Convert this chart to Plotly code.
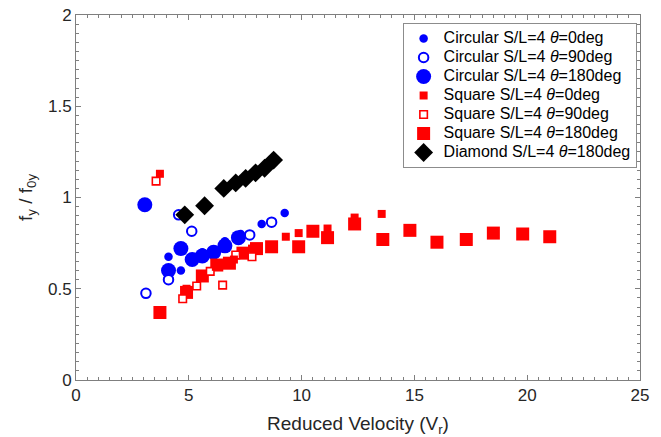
import plotly.graph_objects as go

# Reduced velocity (x) and normalised frequency f_y/f_0y (y) per configuration
circ0_vr = [4.1, 4.65, 5.6, 6.6, 7.3, 8.23, 9.25]
circ0_f = [0.675, 0.60, 0.70, 0.76, 0.80, 0.855, 0.915]

circ90_vr = [3.1, 4.1, 4.55, 5.13, 7.7, 8.67]
circ90_f = [0.475, 0.55, 0.905, 0.815, 0.795, 0.865]

circ180_vr = [3.05, 4.1, 4.65, 5.15, 5.6, 6.1, 6.6, 7.2]
circ180_f = [0.96, 0.60, 0.72, 0.66, 0.68, 0.70, 0.735, 0.78]

sq0_vr = [3.72, 4.9, 5.5, 6.2, 7.0, 7.8, 9.3, 9.87, 11.15, 12.35, 13.55]
sq0_f = [1.13, 0.50, 0.56, 0.62, 0.66, 0.72, 0.785, 0.805, 0.83, 0.89, 0.91]

sq90_vr = [3.55, 4.73, 5.35, 5.95, 6.5, 7.08, 7.8]
sq90_f = [1.09, 0.445, 0.515, 0.595, 0.52, 0.685, 0.675]

sq180_vr = [3.72, 4.9, 5.6, 6.24, 6.8, 7.4, 8.0, 8.67, 9.87, 10.5, 11.15,
            12.35, 13.6, 14.8, 16.0, 17.3, 18.5, 19.8, 21.0]
sq180_f = [0.37, 0.48, 0.57, 0.63, 0.64, 0.695, 0.72, 0.73, 0.73, 0.815, 0.78,
           0.855, 0.77, 0.82, 0.755, 0.77, 0.805, 0.80, 0.785]

dia180_vr = [4.82, 5.7, 6.55, 7.08, 7.52, 7.96, 8.36, 8.76]
dia180_f = [0.905, 0.955, 1.05, 1.08, 1.105, 1.135, 1.16, 1.205]

x_ticks = [0, 5, 10, 15, 20, 25]
y_ticks = [0, 0.5, 1, 1.5, 2]

BLUE = "#0000FF"
RED = "#FF0000"
FONT = "Liberation Sans, Arial, Helvetica, sans-serif"
AXIS_GREY = "#7f7f7f"
TEXT = "#262626"


def label(shape, angle):
    return ('<span style="font-size:16px">' + shape +
            ' S/L=4 <i>θ</i>=' + angle + 'deg</span>')


# drawing order: large markers first, so smaller / open markers sit on top
series = [
    dict(x=circ180_vr, y=circ180_f, name=label("Circular", "180"), rank=3,
         marker=dict(symbol="circle", size=15, color=BLUE, line=dict(width=0))),
    dict(x=circ0_vr, y=circ0_f, name=label("Circular", "0"), rank=1,
         marker=dict(symbol="circle", size=8.5, color=BLUE, line=dict(width=0))),
    dict(x=circ90_vr, y=circ90_f, name=label("Circular", "90"), rank=2,
         marker=dict(symbol="circle", size=9.5, color="white",
                     line=dict(width=2, color=BLUE))),
    dict(x=sq180_vr, y=sq180_f, name=label("Square", "180"), rank=6,
         marker=dict(symbol="square", size=13, color=RED, line=dict(width=0))),
    dict(x=sq90_vr, y=sq90_f, name=label("Square", "90"), rank=5,
         marker=dict(symbol="square", size=7.5, color="white",
                     line=dict(width=1.6, color=RED))),
    dict(x=sq0_vr, y=sq0_f, name=label("Square", "0"), rank=4,
         marker=dict(symbol="square", size=8, color=RED, line=dict(width=0))),
    dict(x=dia180_vr, y=dia180_f, name=label("Diamond", "180"), rank=7,
         marker=dict(symbol="diamond", size=14.5, color="black", line=dict(width=0))),
]

fig = go.Figure()
for s in series:
    fig.add_trace(go.Scatter(
        x=s["x"], y=s["y"], mode="markers", name=s["name"],
        legendrank=s["rank"], marker=s["marker"],
    ))

axis_common = dict(
    showgrid=False, zeroline=False, showline=True, linecolor=AXIS_GREY,
    linewidth=1, mirror="ticks", ticks="inside", ticklen=5,
    tickcolor=AXIS_GREY, tickwidth=1, automargin=False,
    tickfont=dict(family=FONT, size=17, color=TEXT),
)

fig.update_xaxes(
    range=[0, 25], tickvals=x_ticks, ticktext=[str(v) for v in x_ticks],
    minor=dict(dtick=0.5, ticks="inside", ticklen=3, tickcolor=AXIS_GREY),
    title=dict(text="Reduced Velocity (V<sub>r</sub>)",
               font=dict(family=FONT, size=19, color=TEXT), standoff=14),
    **axis_common,
)
fig.update_yaxes(
    range=[0, 2], tickvals=y_ticks, ticktext=["0", "0.5", "1", "1.5", "2"],
    minor=dict(dtick=0.05, ticks="inside", ticklen=3, tickcolor=AXIS_GREY),
    title=dict(text="f<sub>y</sub> / f<sub>0y</sub>",
               font=dict(family=FONT, size=19, color=TEXT), standoff=10),
    **axis_common,
)

fig.update_layout(
    width=661, height=437,
    margin=dict(l=76, r=21, t=15, b=57),
    paper_bgcolor="white", plot_bgcolor="white",
    font=dict(family=FONT, color=TEXT),
    legend=dict(
        x=0.994, xanchor="right", y=0.978, yanchor="top",
        bgcolor="white", bordercolor="#8c8c8c", borderwidth=1,
        font=dict(family=FONT, size=12, color="black"),
        itemsizing="trace",
    ),
)

fig.write_html("out.html")
